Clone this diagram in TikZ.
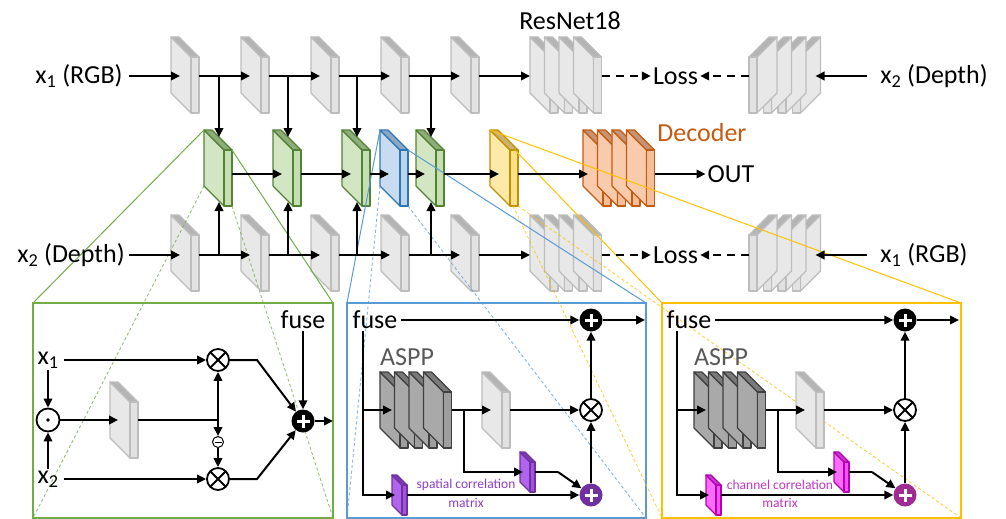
\documentclass[tikz,border=0pt]{standalone}
\usepackage{fontspec}
\setmainfont{Carlito}
\usetikzlibrary{arrows.meta}

% face colours: side, top, front, border
\definecolor{grayS}{HTML}{E8E8E8}\definecolor{grayT}{HTML}{B4B4B4}\definecolor{grayF}{HTML}{E2E2E2}\definecolor{grayB}{HTML}{BDBDBD}
\definecolor{greenS}{HTML}{D3E6C4}\definecolor{greenT}{HTML}{8FAD7A}\definecolor{greenF}{HTML}{C5DFB3}\definecolor{greenB}{HTML}{548235}
\definecolor{blueS}{HTML}{C8DCF1}\definecolor{blueT}{HTML}{8DA7C6}\definecolor{blueF}{HTML}{BBD5EE}\definecolor{blueB}{HTML}{2E75B6}
\definecolor{yelS}{HTML}{FFE9A8}\definecolor{yelT}{HTML}{CDB26E}\definecolor{yelF}{HTML}{FFE08A}\definecolor{yelB}{HTML}{BF9000}
\definecolor{oraS}{HTML}{F8CBAD}\definecolor{oraT}{HTML}{C59476}\definecolor{oraF}{HTML}{F5BE9A}\definecolor{oraB}{HTML}{C55A11}
\definecolor{asppS}{HTML}{A9A9A9}\definecolor{asppT}{HTML}{7A7A7A}\definecolor{asppF}{HTML}{9E9E9E}\definecolor{asppB}{HTML}{404040}
\definecolor{purS}{HTML}{B065EC}\definecolor{purT}{HTML}{7C3AB5}\definecolor{purF}{HTML}{A352E2}\definecolor{purB}{HTML}{7030A0}
\definecolor{magS}{HTML}{FF6BFF}\definecolor{magT}{HTML}{C23EC2}\definecolor{magF}{HTML}{F552F5}\definecolor{magB}{HTML}{B400B4}
% frames and texts
\definecolor{zgreen}{HTML}{70AD47}
\definecolor{zblue}{HTML}{5B9BD5}
\definecolor{zyellow}{HTML}{FFC000}
\definecolor{decodertxt}{HTML}{C55A11}
\definecolor{asppTxt}{HTML}{595959}
\definecolor{spatialTxt}{HTML}{8A3FC8}
\definecolor{channelTxt}{HTML}{C037C0}
\definecolor{purpleSum}{HTML}{7030A0}
\definecolor{magentaSum}{HTML}{A02B93}

\tikzset{
  facebase/.style={line width=1.2pt, line join=round},
  port/.style={inner sep=0pt, outer sep=0pt, minimum height=0pt, draw=none},
  conn/.style={line width=2pt, -{Triangle[length=9pt,width=8.5pt]}},
  plainline/.style={line width=2pt},
  dconn/.style={line width=2pt, dash pattern=on 8pt off 6pt, -{Triangle[length=9pt,width=8.5pt]}},
  lbl/.style={font=\fontsize{26}{30}\selectfont, inner sep=2pt},
  captext/.style={font=\fontsize{13.5}{16}\selectfont, inner sep=0pt},
  zoombox/.style={fill=white, line width=1.5pt, minimum height=215pt, inner sep=0pt, outer sep=0pt},
  zoomline/.style={line width=1pt},
  zoomdash/.style={line width=0.9pt, dash pattern=on 3pt off 2.5pt, opacity=0.75},
  otimes/.style={circle, draw, fill=white, line width=1.8pt, minimum size=22pt, inner sep=0pt,
    path picture={\draw[black, line width=1.8pt]
      (path picture bounding box.north west) -- (path picture bounding box.south east)
      (path picture bounding box.north east) -- (path picture bounding box.south west);}},
  sumnode/.style={circle, fill=#1, minimum size=23pt, inner sep=0pt,
    path picture={\draw[white, line width=3pt]
      ([xshift=-6.5pt]path picture bounding box.center) -- ([xshift=6.5pt]path picture bounding box.center)
      ([yshift=-6.5pt]path picture bounding box.center) -- ([yshift=6.5pt]path picture bounding box.center);}},
  odot/.style={circle, draw, fill=white, line width=1.8pt, minimum size=23pt, inner sep=0pt,
    path picture={\fill[black] (path picture bounding box.center) circle (1.8pt);}},
  minusnode/.style={circle, draw, line width=1pt, minimum size=11pt, inner sep=0pt,
    path picture={\draw[black, line width=1pt]
      ([xshift=-3.5pt]path picture bounding box.center) -- ([xshift=3.5pt]path picture bounding box.center);}},
}

\newcommand\defpalette[5]{%
  \tikzset{
    #1-side/.style={facebase, fill=#2, draw=#5},
    #1-top/.style={facebase, fill=#3, draw=#5},
    #1-front/.style={facebase, fill=#4, draw=#5}}}
\defpalette{pgray}{grayS}{grayT}{grayF}{grayB}
\defpalette{pgreen}{greenS}{greenT}{greenF}{greenB}
\defpalette{pblue}{blueS}{blueT}{blueF}{blueB}
\defpalette{pyel}{yelS}{yelT}{yelF}{yelB}
\defpalette{pora}{oraS}{oraT}{oraF}{oraB}
\defpalette{paspp}{asppS}{asppT}{asppF}{asppB}
\defpalette{ppur}{purS}{purT}{purF}{purB}
\defpalette{pmag}{magS}{magT}{magF}{magB}

% one slab: back upper-left corner, depth, face width, face height, palette
\newcommand\slab[6]{%
  \filldraw[#6-side] (#1,#2) -- ++(#3,#3) -- ++(0,#5) -- ++(-#3,-#3) -- cycle;
  \filldraw[#6-top] (#1,#2) -- ++(#4,0) -- ++(#3,#3) -- ++(-#4,0) -- cycle;
  \filldraw[#6-front] (#1+#3,#2+#3) rectangle ++(#4,#5);
}
% mirrored slab: front face on the left, depth towards the upper right
\newcommand\mslab[6]{%
  \filldraw[#6-side] (#1+#4,#2+#3) -- ++(#3,-#3) -- ++(0,#5) -- ++(-#3,#3) -- cycle;
  \filldraw[#6-top] (#1,#2+#3) -- ++(#3,-#3) -- ++(#4,0) -- ++(-#3,#3) -- cycle;
  \filldraw[#6-front] (#1,#2+#3) rectangle ++(#4,#5);
}
% blocks with a named port node on their connector line
\newcommand\blk[5]{% name, x, y, line offset, palette
  \slab{#2}{#3}{20}{8}{56}{#5}
  \node[port, minimum width=28pt] (#1) at (#2+14,#3+#4) {};
}
\newcommand\sblk[5]{%
  \slab{#2}{#3}{10}{5}{30}{#5}
  \node[port, minimum width=15pt] (#1) at (#2+7.5,#3+#4) {};
}
\newcommand\blkstack[5]{%
  \foreach \k in {0,1,2,3} {\slab{#2+14.5*\k}{#3}{20}{8}{56}{#5}}
  \node[port, minimum width=71.5pt] (#1) at (#2+35.75,#3+#4) {};
}
\newcommand\mirstack[5]{%
  \foreach \k in {3,2,1,0} {\mslab{#2+14.5*\k}{#3}{20}{8}{56}{#5}}
  \node[port, minimum width=71.5pt] (#1) at (#2+35.75,#3+#4) {};
}

% correlation-attention module (ASPP branch)
\newcommand\attention[5]{% prefix, palette, sum colour, caption word, caption colour
  \node[lbl] (#1fuse) at (375,320) {fuse};
  \node[sumnode=black] (#1top) at (591,320) {};
  \coordinate (#1out) at (645,320);
  \node[lbl, text=asppTxt] (#1asppl) at (407,357) {ASPP};
  \blkstack{#1aspp}{380}{372}{38}{paspp}
  \blk{#1light}{482}{372}{38}{pgray}
  \node[otimes] (#1mul) at (591,410) {};
  \sblk{#1cm2}{520}{452}{20}{#2}
  \sblk{#1cm1}{392}{475}{20}{#2}
  \node[sumnode=#3] (#1sum) at (591,495) {};
  \node[captext, text=#5] (#1capa) at (466,485) {#4 correlation};
  \node[captext, text=#5] (#1capb) at (466,503) {matrix};
  \coordinate (#1split) at (363,410);
  \coordinate (#1fork) at (464,410);
  \coordinate (#1knee) at (558,472);
  \draw[conn, shorten <=1pt] (#1fuse) -- (#1top);
  \draw[conn] (#1top) -- (#1out);
  \draw[plainline] (#1fuse.south -| #1split) -- (#1split);
  \draw[conn] (#1split) |- ([xshift=3pt]#1cm1.west);
  \draw[conn] (#1split) -- ([xshift=12pt]#1aspp.west);
  \draw[conn] (#1aspp.east) -- ([xshift=9pt]#1light.west);
  \draw[conn] (#1light.east) -- (#1mul);
  \draw[conn] (#1fork) |- ([xshift=3pt]#1cm2.west);
  \draw[plainline] (#1cm2.east) -- (#1knee);
  \draw[conn] (#1knee) -- (#1sum);
  \draw[conn] (#1cm1.east) -- (#1sum);
  \draw[conn] (#1sum) -- (#1mul);
  \draw[conn] (#1mul) -- (#1top);
}

\begin{document}
\begin{tikzpicture}[x=1pt,y=-1pt]
\useasboundingbox (0,0) rectangle (1006,519);

% ---- two encoder streams
\foreach \n/\x in {1/171,2/241,3/311,4/381,5/451} {
  \blk{t\n}{\x}{37}{39}{pgray}
  \blk{b\n}{\x}{215}{40}{pgray}
}
\blkstack{tres}{530}{37}{39}{pgray}
\mirstack{tref}{749}{37}{39}{pgray}
\blkstack{bres}{530}{215}{40}{pgray}
\mirstack{bref}{749}{215}{40}{pgray}

% ---- fusion stream and decoder
\blk{f1}{204}{130}{44}{pgreen}
\blk{f2}{273}{130}{44}{pgreen}
\blk{f3}{342}{130}{44}{pgreen}
\blk{fa}{380}{130}{44}{pblue}
\blk{f4}{416}{130}{44}{pgreen}
\blk{fc}{490}{130}{44}{pyel}
\blkstack{dec}{583}{130}{44}{pora}

% corners of the magnified blocks
\coordinate (f1a) at (204,130); \coordinate (f1b) at (232,150);
\coordinate (f1c) at (204,186); \coordinate (f1d) at (232,206);
\coordinate (faa) at (380,130); \coordinate (fab) at (408,150);
\coordinate (fac) at (380,186); \coordinate (fad) at (408,206);
\coordinate (fca) at (490,130); \coordinate (fcb) at (515,150);
\coordinate (fcc) at (518,206); \coordinate (fcd) at (513,206);

% ---- detail frames with their projection lines
\node[zoombox, draw=zyellow, minimum width=299pt] (ybox) at (811.5,410.5) {};
\node[zoombox, draw=zblue, minimum width=299pt] (bbox) at (496.5,410.5) {};
\node[zoombox, draw=zgreen, minimum width=300pt] (gbox) at (183,410.5) {};

\draw[zoomdash, zyellow] (fcc) -- (ybox.south east);
\draw[zoomdash, zyellow] (fcd) -- (ybox.south west);
\draw[zoomdash, zblue] (fac) -- (bbox.south west);
\draw[zoomdash, zblue] (fad) -- (bbox.south east);
\draw[zoomdash, zgreen] (f1c) -- (gbox.south west);
\draw[zoomdash, zgreen] (f1d) -- (gbox.south east);
\draw[zoomline, zgreen] (f1a) -- (gbox.north west);
\draw[zoomline, zgreen] (f1b) -- (gbox.north east);
\draw[zoomline, zblue] (faa) -- (bbox.north west);
\draw[zoomline, zblue] (fab) -- (bbox.north east);
\draw[zoomline, zyellow] (fca) -- (ybox.north east);
\draw[zoomline, zyellow] (fcb) -- (ybox.north west);

% ---- labels
\node[lbl] (xa) at (79,76) {x\textsubscript{1} (RGB)};
\node[lbl] (xb) at (934,76) {x\textsubscript{2} (Depth)};
\node[lbl] (xc) at (71,255) {x\textsubscript{2} (Depth)};
\node[lbl] (xd) at (924,255) {x\textsubscript{1} (RGB)};
\node[lbl] (lossA) at (675.5,76) {Loss};
\node[lbl] (lossB) at (675.5,255) {Loss};
\node[lbl] (resname) at (570,21) {ResNet18};
\node[lbl, text=decodertxt] (decname) at (702,133) {Decoder};
\node[lbl] (outlbl) at (731,174) {OUT};

% ---- main connectors
\draw[conn, shorten <=4pt] (xa) -- ([xshift=9pt]t1.west);
\draw[conn, shorten <=2pt] (xc) -- ([xshift=9pt]b1.west);
\foreach \a/\b in {t1/t2,t2/t3,t3/t4,t4/t5,b1/b2,b2/b3,b3/b4,b4/b5,f1/f2,f2/f3,f3/fa,fa/f4,f4/fc}
  \draw[conn] (\a.east) -- ([xshift=9pt]\b.west);
\draw[conn] (t5.east) -- (tres.west);
\draw[conn] (b5.east) -- (bres.west);
\draw[dconn] (tres.east) -- (lossA);
\draw[dconn] (tref.west) -- (lossA);
\draw[dconn] (bres.east) -- (lossB);
\draw[dconn] (bref.west) -- (lossB);
\draw[conn, shorten <=11pt] (xb) -- ([xshift=-5pt]tref.east);
\draw[conn, shorten <=11pt] (xd) -- ([xshift=-5pt]bref.east);
\draw[conn] (fc.east) -- ([xshift=5pt]dec.west);
\draw[conn] (dec.east) -- (outlbl);
\foreach \f/\x in {1/219,2/288,3/357,4/431} {
  \coordinate (f\f-top) at (\x,137);
  \coordinate (f\f-bot) at (\x,202);
  \draw[conn] (f\f-top |- t1.east) -- (f\f-top);
  \draw[conn] (f\f-bot |- b1.east) -- (f\f-bot);
}

% ---- fusion module
\node[lbl] (gfuse) at (303,320) {fuse};
\node[sumnode=black] (gsum) at (303,421) {};
\coordinate (gout) at (333,421);
\node[lbl] (gx1) at (48,360) {x\textsubscript{1}};
\node[lbl] (gx2) at (48,479) {x\textsubscript{2}};
\node[odot] (gdot) at (48,420) {};
\blk{gblk}{110}{382}{38}{pgray}
\node[otimes] (gm1) at (218,360) {};
\node[otimes] (gm2) at (218,479) {};
\node[minusnode] (gneg) at (218,442) {};
\coordinate (gj) at (218,420);
\coordinate (gk1) at (257,360);
\coordinate (gk2) at (257,479);
\draw[conn] (gfuse) -- (gsum);
\draw[conn] (gsum) -- (gout);
\draw[conn, shorten <=3pt] (gx1) -- (gm1);
\draw[conn, shorten <=3pt] (gx2) -- (gm2);
\draw[conn] (gx1) -- (gdot);
\draw[conn] (gx2) -- (gdot);
\draw[conn] (gdot) -- ([xshift=8pt]gblk.west);
\draw[plainline] (gblk.east) -- (gj);
\draw[conn] (gj) -- (gm1);
\draw[conn] (gj) -- (gneg);
\draw[conn] (gneg) -- (gm2);
\draw[conn] (gm1) -- (gk1) -- (gsum);
\draw[conn] (gm2) -- (gk2) -- (gsum);

% ---- spatial and channel correlation modules
\attention{sp}{ppur}{purpleSum}{spatial}{spatialTxt}
\begin{scope}[xshift=314pt]
  \attention{ch}{pmag}{magentaSum}{channel}{channelTxt}
\end{scope}
\end{tikzpicture}
\end{document}
